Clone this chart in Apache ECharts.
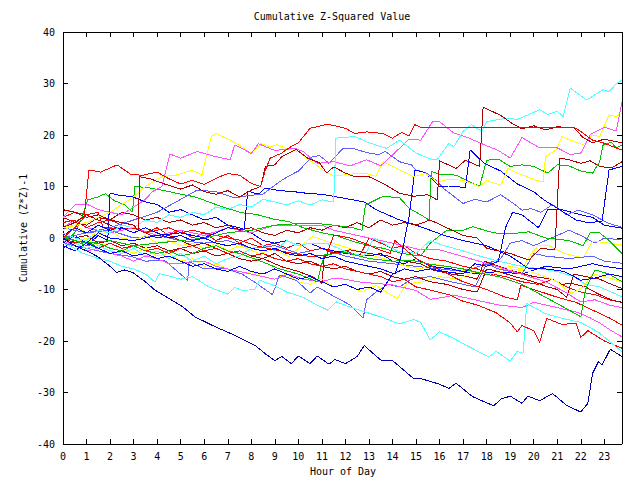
<!DOCTYPE html>
<html><head><meta charset="utf-8">
<script src="https://cdn.jsdelivr.net/npm/echarts@6/dist/echarts.min.js"></script>
<style>html,body{margin:0;padding:0;background:#fff}#c{width:640px;height:480px}#c svg path{shape-rendering:crispEdges}</style>
</head><body><div id="c"></div>
<script>
const hourTicks = [0,1,2,3,4,5,6,7,8,9,10,11,12,13,14,15,16,17,18,19,20,21,22,23];
const yTicks = [-40,-30,-20,-10,0,10,20,30,40];

const navy = [[0,0],[0.5,-1.5],[1,-2.5],[1.47,-3.6],[2,-5.5],[2.27,-6.7],[2.6,-6.2],[2.97,-6.7],[3.5,-8.5],[3.9,-10.1],[4.6,-12],[5.1,-13.4],[5.6,-15.3],[6.45,-17.2],[7.3,-18.9],[8.2,-21],[8.6,-22.5],[9.0,-23.8],[9.3,-23],[9.7,-24.4],[10.0,-22.9],[10.5,-24.4],[10.8,-22.9],[11.3,-24.5],[11.55,-23.6],[12.0,-24.4],[12.5,-23],[12.8,-20.9],[13.5,-23.7],[14.0,-23.8],[14.9,-27.3],[15.2,-27.3],[16.0,-28.4],[16.4,-29.2],[16.7,-28.2],[17.4,-30.8],[18.3,-32.6],[18.6,-31.3],[19.0,-30.7],[19.5,-32.1],[19.75,-30.7],[20.25,-31.6],[20.8,-30.2],[21.4,-32.5],[22.0,-33.8],[22.3,-32.1],[22.5,-26.3],[22.75,-24],[22.9,-24.7],[23.25,-21.6],[23.75,-23]];
const cyanTop = [[0,1],[0.5,0],[1,-0.5],[1.5,1.5],[2,1],[2.5,2.5],[3,2],[3.5,3.5],[4,3],[4.5,4.5],[5,4],[5.5,5],[6,4.5],[6.5,6],[7,5.5],[7.5,6.5],[8,6],[8.5,7.5],[9,7],[9.5,6.4],[10,7.2],[10.5,6.4],[11,7.4],[11.5,7],[11.6,19.4],[12.4,19.7],[13,18.5],[13.75,17.4],[14.3,19],[15,16.5],[15.7,15.2],[15.9,15.2],[16.4,18.4],[16.6,17.7],[17,20.7],[17.35,22],[17.8,20.7],[18,22.6],[18.9,23.3],[19.3,23],[19.8,24],[20.25,24.9],[20.6,24],[21,24.6],[21.25,23.6],[21.55,29.1],[22.25,26.8],[22.95,28.8],[23.2,28.4],[23.5,29.9],[23.75,30.7]];
const cyanLow = [[0,-1],[0.5,-2],[0.8,-2.9],[1.5,-4],[2,-4.5],[2.5,-5.5],[3,-6],[3.5,-7],[3.9,-8.5],[4.1,-6.9],[4.6,-7.5],[5,-8],[5.5,-7.5],[6.2,-9.5],[7,-10.9],[7.3,-9.6],[7.6,-10.2],[8.15,-10],[8.35,-8.2],[9,-9.3],[9.5,-10.5],[10.2,-11.5],[10.7,-12.8],[11.25,-14],[11.6,-12.4],[12.2,-13.4],[13,-14.6],[13.6,-15.5],[14.3,-16.7],[14.9,-15.8],[15.2,-16.4],[15.6,-19.8],[16,-18.2],[16.6,-19.5],[17.2,-21],[18.1,-23.1],[18.4,-22],[19,-23.9],[19.3,-22],[19.55,-22.4],[19.7,-12.7],[20.5,-14.7],[21.3,-15.7],[22,-16.4],[22.75,-18.3],[23.2,-20],[23.75,-22.1]];
const cyanMid = [[0,0],[0.5,-1],[1,-2],[1.5,-1.5],[2,-2.5],[2.5,-3],[3,-2],[3.5,-3.5],[4,-2.5],[4.5,-4],[5,-3],[5.5,-4.5],[6,-3.5],[6.5,-5],[7,-4],[7.5,-3.5],[8,-2],[8.5,-1.5],[9,-2.5],[9.5,-0.5],[10,-1.5],[10.5,-1],[11.2,-1],[11.7,-2],[12.2,-3],[12.8,-3.5],[13.2,0],[13.6,-1],[14.2,-2.5],[15,-3],[15.6,-0.5],[16.2,-1.5],[17,-2.5],[17.7,-3.5],[18.5,-4.5],[19.5,-5.5],[20.3,-6],[21,-6.5],[21.7,-7.5],[22.2,-9],[22.8,-9.5],[23.3,-10.5],[23.75,-11.4]];
const redTop = [[0,0],[0.5,2],[0.9,4],[1.1,13.2],[1.6,12.8],[2.3,14.2],[2.9,12.3],[3.4,12.2],[4,12.8],[4.5,11.5],[5,10.5],[5.5,11.2],[6,10.4],[6.6,11.8],[7.0,12.5],[7.5,12.2],[8.0,10.6],[8.4,10],[8.6,13.2],[8.8,15.5],[9.3,16.5],[9.6,17.5],[10.0,18.5],[10.5,21.3],[11.25,22.1],[12.0,21.3],[12.4,20.3],[12.9,20.6],[13.6,20.3],[14.0,19.4],[14.4,20.5],[14.7,19.8],[14.95,22],[15.2,21.5],[21.7,21.5],[21.9,21],[22.5,19],[23.0,18.4],[23.5,17.5],[23.75,17.1]];
const darkRedTop = [[0,5.5],[0.5,5],[1,4],[1.5,4.5],[2,3.5],[2.5,3],[3,2.5],[3.2,1.5],[3.25,11.9],[3.7,11.5],[4.3,10.5],[5,9.5],[5.5,10.3],[6,9],[6.5,8.5],[7,9.2],[7.5,8],[8,9.3],[8.4,10],[8.6,13.9],[9,14.2],[9.3,15.8],[9.9,17.2],[10.4,15.5],[10.9,14.6],[11.2,12.6],[11.5,13.8],[12,12.6],[12.4,11.9],[13,11.9],[13.6,10.6],[14.3,8.7],[14.9,8.1],[15.5,8.4],[15.9,7.4],[16,15],[16.7,13.5],[17.1,15.1],[17.7,13.9],[17.85,25.4],[18.6,23.8],[19.1,22.2],[19.5,21.2],[20,21.8],[20.5,21],[21,21.6],[21.7,21.4],[22.1,19.5],[22.5,18.5],[23,19.2],[23.4,18.8],[23.75,18.5]];
const magentaTop = [[0,4],[0.5,6.4],[1,6.6],[1.5,5.5],[2,5],[2.5,4.5],[3,6],[3.5,7.5],[3.8,9],[4.2,10],[4.55,16.3],[5,15.5],[5.7,16.8],[6.4,15.9],[7.1,15.2],[7.3,18.1],[8,16.4],[8.3,18.3],[9,17],[9.85,17.4],[10.2,16.8],[10.8,14.5],[11.5,14.8],[12.2,14],[12.9,15.2],[13.5,14],[14.2,17],[14.7,19.2],[15.2,19],[15.7,22.6],[16,22.6],[16.6,20.4],[17.2,19.5],[17.9,18.1],[18.5,17],[19,15.5],[19.5,19.5],[20.25,17.5],[21,17.5],[21.55,16.2],[22,16.5],[22.4,20.1],[23,21.5],[23.5,20.8],[23.75,26.3]];
const yellowTop = [[0,2],[0.5,2.5],[1,3],[1.5,4],[2,5],[2.5,6.5],[3,8],[3.5,10],[4.2,11.9],[4.8,12.2],[5.5,13.2],[5.9,12.2],[6.1,16],[6.3,19.7],[6.5,20.3],[7.1,19],[7.5,18],[8.0,16.4],[8.4,18.3],[8.8,17.7],[9.1,18.1],[9.6,17.2],[10,16.8],[10.5,15],[11.05,13.2],[11.5,12],[12.2,12.4],[12.8,12.6],[13.3,12],[13.6,14.8],[14.2,13.5],[14.9,11.9],[15.4,12.5],[15.9,10.9],[16.4,11.4],[17,11.2],[17.7,10],[18.0,11.2],[18.6,10.2],[18.9,13.5],[19.3,12.6],[20.1,11.2],[20.4,10.9],[20.5,15.8],[20.95,17.1],[21.2,19.7],[21.55,19],[22.1,18.1],[22.5,20],[22.8,19.7],[23.2,23.9],[23.5,23.6],[23.75,24.3]];
const slateTop = [[0,0],[1,1],[2,2],[3,3.5],[4,5],[5,7.5],[5.7,9.3],[6.5,9],[7.3,7.8],[8,8.3],[8.5,8.5],[9.1,10.6],[9.5,11.8],[10,13],[10.6,15.8],[10.9,16],[11.3,14.5],[11.9,17.4],[12.3,17.4],[12.9,16.6],[13.4,16.2],[13.7,16.8],[14.3,14.8],[14.8,14.2],[15,13.2],[15.45,12.6],[15.9,11],[16.2,9.5],[17,6.7],[17.5,7.5],[18.0,7],[18.6,8.4],[19.2,6.5],[19.5,5.4],[19.9,5.7],[20.3,5],[20.8,6.5],[21.4,4.5],[21.9,5.4],[22.5,4.5],[23.2,2.8],[23.75,2.1]];
const blueJump = [[0,0.5],[0.5,2],[1,1],[1.5,2.5],[2,1.5],[2.5,2],[3,1],[3.5,2],[4,1],[4.5,0],[5,0.5],[5.5,-0.5],[6,0],[6.5,-1],[7,-1.5],[7.5,-1],[8,-2],[8.5,-2.5],[9,-2],[9.5,-3],[10,-3.5],[10.5,-3],[11,-4],[11.5,-3.5],[12,-4.5],[12.5,-5],[13,-5.5],[13.5,-6],[14.1,-7],[14.4,-3],[14.7,4.1],[14.95,13.2],[15.3,12.8],[15.6,11.8],[16,10],[16.4,10.1],[17.1,9.8],[17.3,17.1],[17.9,14.5],[18.6,13],[19.3,10.5],[20,9],[20.4,7.5],[21.1,5.5],[21.8,3.5],[22.3,3],[22.9,3.2],[23.2,13.2],[23.5,13.6],[23.75,13.9]];
const greenTop = [[0,0],[1,-1],[2,-0.5],[3,-1.5],[4,-1],[5,-0.5],[6,0],[7,1],[8,1.5],[9,2.5],[10,2.8],[10.6,2.9],[11.5,2.5],[12.3,2],[12.7,1.5],[12.85,6.4],[13.6,8.1],[14.3,7.8],[14.7,5.8],[15.2,4.5],[15.55,3.5],[15.65,12.9],[16,12.4],[16.7,12.2],[17,11.5],[17.7,10],[18.0,15.1],[18.5,15.3],[19,13.9],[19.5,14.2],[20,13.9],[20.6,12.6],[21,14.2],[21.5,14],[22,13],[22.5,12.6],[22.8,14.8],[22.95,18.1],[23.3,18.6],[23.5,17.5],[23.75,18]];
const greenEarly = [[0,-1],[0.5,1],[0.8,4],[1.05,7.4],[1.5,8],[1.8,8.6],[2.2,7.2],[2.6,6.5],[2.95,5],[3.05,10],[3.6,9.8],[4.4,9.1],[5,8.5],[5.6,8],[6.2,7],[6.8,6],[7.6,4.9],[8.2,4.6],[9,3.6],[9.6,3.2],[10.2,2],[11,1],[11.6,0.5],[12.2,-0.5],[13,-1.5],[13.6,-2],[14.4,-3],[15.2,-3.5],[15.6,-1],[16.3,1.5],[17,1.5],[17.4,2.2],[18.3,1],[19,0.8],[19.8,1.2],[20.5,0],[21.5,-0.5],[22.1,-1.5],[22.4,1],[22.8,1],[23.2,-0.5],[23.75,-3]];
const greenLow = [[0,0.5],[0.5,-0.5],[1,-1.5],[1.5,-1],[2,-2],[2.5,-2.5],[3,-1.5],[3.5,-2.5],[4,-3],[4.5,-2.5],[5,-3.5],[5.5,-3],[6,-2],[6.5,-1.5],[7,-2.5],[7.5,-3],[8.4,-4.5],[9.2,-6],[10,-7],[10.8,-8.5],[11.1,-3.3],[12,-2.8],[13,-4],[14,-4.5],[14.8,-4.3],[15.6,-5.1],[16.3,-5.5],[17,-6],[17.7,-6.8],[18.5,-7.5],[19.5,-9],[20.5,-11.5],[21.5,-14],[22,-15.3],[22.2,-10],[22.6,-6.2],[23.2,-7],[23.75,-8.5]];
const redMid = [[0,3],[0.5,3.5],[1,2],[1.5,3],[2,3.5],[2.5,2.5],[3,2],[3.5,1],[4,1.5],[4.5,2],[5,1],[5.5,1.5],[6,1],[6.5,0.5],[7,0],[7.5,-0.4],[8.2,-1.5],[9,-2.3],[9.8,-3],[10.5,-3.6],[11.2,-3.3],[11.5,0.6],[12.2,0],[12.8,-1],[13.5,-2.4],[13.9,-3],[14.1,-0.5],[15,-4],[16,-6.2],[17,-8.5],[18,-10],[18.8,-11.5],[19.3,-12],[19.45,-9.2],[20,-10],[21,-11.5],[21.8,-12.5],[22.5,-14],[23.2,-15.5],[23.75,-16.9]];
const redLow = [[0,0],[0.5,-1],[1,-0.5],[1.5,-2],[2,-1],[2.5,-2],[3,-1.5],[3.5,-2.5],[4,-2],[4.5,-3],[5,-2],[5.5,-1.5],[6,-2.5],[6.5,-2],[7,-3],[7.5,-2.5],[8,-3.5],[8.5,-3],[9,-4],[9.5,-4.5],[10,-4],[10.5,-5],[11,-5.5],[11.5,-5],[12,-6],[12.5,-6.5],[13,-7],[13.5,-7.5],[14,-8.5],[14.5,-8],[15,-9.5],[15.6,-10.1],[16.4,-11],[17,-12.3],[17.6,-13],[18.4,-14.5],[19,-16.5],[19.3,-18.2],[19.5,-17],[20,-18],[20.25,-20.3],[20.55,-15.6],[21.2,-16.8],[21.8,-16.5],[22,-19.3],[22.3,-18],[23,-20],[23.75,-21.4]];
const redEarly = [[0,4],[0.5,5],[1,4.5],[1.5,5],[1.7,2],[2.5,1.8],[3.2,1.9],[3.5,1],[4,2],[4.5,0.5],[5,1.5],[5.5,0],[6,1],[6.5,-0.5],[7,0.5],[7.5,-1],[8,0],[8.5,-1.5],[9,-1],[9.5,-2],[10,-1],[10.5,-2.5],[11,-2],[11.5,-3],[12,-2.5],[12.6,-3.5],[13,0],[13.5,-1],[14,-2],[14.5,-1.5],[15,-3],[15.6,-4],[16.3,-4.5],[17,-5.5],[17.6,-6],[18.2,-7],[18.8,-7.5],[19.5,-8.5],[20.2,-9],[20.8,-8],[21.4,-9.5],[22,-10.5],[22.6,-11],[23.2,-12],[23.75,-12.5]];
const magentaMid = [[0,2],[0.5,3.5],[1,2],[2,1],[3,2],[4,0.5],[5,1.5],[6,0.5],[7,2],[8,1],[9,2.5],[10.35,2.5],[11,2.5],[11.5,1.5],[12.5,0.5],[13.5,-0.5],[14.5,-1.5],[15.2,-2.3],[16,-2.3],[17,-3.6],[18.5,-5.6],[19.8,-7.5],[20.5,-8.5],[21.3,-10.4],[22,-12.4],[22.6,-12],[23.2,-13],[23.75,-13.5]];
const magentaLow = [[0,-0.5],[0.5,-1.5],[1,-2.5],[1.5,-2],[2,-3],[2.5,-3.5],[3,-4.5],[3.5,-3.5],[4,-4],[4.5,-5],[5,-5],[5.5,-4.5],[6,-4.5],[6.5,-5.5],[7,-6],[7.5,-6.5],[8,-7],[8.5,-7.5],[9,-8],[9.6,-7],[10.2,-8],[11,-8.5],[11.5,-7.8],[12,-8],[12.5,-8.5],[13,-8.7],[14,-9.1],[15,-10.2],[15.6,-11.9],[16.2,-11.5],[16.6,-11.1],[17.5,-12],[18.5,-13],[19.5,-13.5],[20,-12.5],[20.5,-13],[21,-13.5],[21.9,-14.5],[22.4,-15.5],[22.8,-16.5],[23.3,-18],[23.75,-19.2]];
const blueMid = [[0,-1],[0.5,0.5],[1,-1],[1.5,1],[2,0],[3,-0.5],[4,0.5],[5,1],[6,0],[7,2],[7.7,1.6],[7.85,9.1],[8.3,8.5],[8.6,9.7],[9.2,9.2],[9.8,9],[10.5,8.6],[11,8.5],[11.6,8],[12.2,7.5],[12.8,7],[13.3,5.5],[13.8,4.5],[14.3,3.5],[15,2.5],[15.6,1.5],[16.2,0.5],[17,-0.5],[18,-1.5],[19,-3.5],[19.8,-6],[20.5,-6],[21.3,-6.5],[22,-8.2],[22.6,-7.8],[23.2,-7],[23.75,-7.5]];
const blueLate = [[0,-1.5],[0.5,-2.5],[1,-1],[1.5,-2],[2,-3],[2.5,-2.5],[3,-3.5],[3.5,-3],[4,-4],[4.5,-3.5],[5,-4.5],[5.5,-5.5],[6,-5],[6.5,-6],[7,-6.5],[7.5,-5.5],[8,-6.5],[8.5,-7],[9,-6],[9.5,-7],[10,-8],[10.5,-7.5],[11,-8.5],[11.5,-9.5],[12,-9],[12.5,-10],[13,-9.5],[13.5,-10.5],[14,-7],[14.5,-6],[15,-6.5],[15.6,-6],[16.2,-6.5],[17,-7],[17.5,-5],[18,-5.5],[18.5,-4.5],[18.8,2],[19.1,5],[19.5,4.5],[20.2,2],[20.6,5.5],[21.2,5.5],[22,4.5],[22.5,4],[23,2.5],[23.75,1.9]];
const blueEarly = [[0,-2],[0.5,-0.5],[1,-1.5],[1.5,0.5],[1.9,-0.5],[2.0,8.7],[2.5,8.2],[2.9,8.1],[3.5,7],[4,6.5],[4.5,5],[5,5.5],[5.5,4.5],[6,3.5],[6.5,4],[7,2.5],[7.5,2],[8,1],[8.5,-0.5],[9,-1],[9.5,-0.5],[10,-1.5],[10.5,-1],[11,-2],[12,-3],[13,-3.5],[13.5,-3],[14,-4.5],[14.5,-5],[15,-4],[15.6,-5.5],[16.5,-6],[17.5,-7],[18.5,-6.5],[19.5,-7],[20.5,-5.5],[21.5,-6],[22.5,-5],[23,-5.5],[23.75,-6]];
const darkRedLate = [[0,2],[0.5,3],[1,2.5],[1.5,4],[2,3.5],[2.5,5],[3,4.5],[3.5,3.5],[4,4],[4.5,3],[5,3.5],[5.5,2.5],[6,3],[6.5,2],[7,2.5],[7.5,1.5],[8,2],[8.5,1],[9,0.5],[9.5,1.5],[10,1],[10.5,2],[11,1.5],[11.5,2.5],[12,2],[12.5,3],[13,2],[13.5,3.5],[14,2.5],[14.5,3],[15,2.5],[15.6,3.5],[16.3,2],[17,0.5],[17.6,0],[18,-2],[18.5,-2.5],[19,-3],[19.8,-4.3],[20.3,-2],[20.9,-2.3],[21.1,15.5],[21.5,15.2],[22,14.5],[22.4,15],[22.8,13.9],[23.3,13.6],[23.75,14.8]];
const darkRedLow = [[0,4],[0.5,3],[1,4.5],[1.5,3.5],[2,2.5],[2.5,1.5],[3,2],[3.5,1],[4,0],[4.5,0.5],[5,-0.5],[5.5,-1.5],[6,-1],[6.5,-2],[7,-3],[7.5,-2.5],[8,-3.5],[8.5,-4],[9,-3],[9.5,-4.5],[10,-5],[10.5,-4.5],[11,-5.5],[11.5,-6],[12,-5.5],[12.5,-6.5],[13,-7],[13.5,-6.5],[14,-7.5],[14.5,-8],[15,-7.5],[15.6,-8.5],[16.3,-9],[17,-10],[17.6,-10.5],[18,-6],[18.5,-6.5],[19.2,-7.5],[20,-8.5],[20.6,-9.5],[21,-10],[21.4,-11.5],[21.7,-7],[22.2,-7.5],[22.8,-8],[23.3,-9],[23.75,-9.8]];
const darkRedMid = [[0,1],[0.5,0],[1,0.5],[1.5,-1],[2,-0.5],[2.5,-1.5],[3,-1],[3.5,-2],[4,-1.5],[4.5,-2.5],[5,-2],[5.5,-3],[6,-2.5],[6.5,-3.5],[7,-3],[7.5,-4],[8,-4.5],[8.5,-4],[9.3,-5.6],[10,-6.5],[10.6,-7.5],[11,-8.8],[11.1,-3.6],[11.5,-2.8],[12.2,-2.3],[13,-3],[13.8,-3.5],[14.5,-4.5],[15.2,-5],[15.7,-6.2],[16.5,-7],[17.2,-7.5],[17.6,-8],[17.9,-4.5],[18.5,-5.5],[19.2,-6.5],[20,-7.5],[20.8,-8],[21.2,-9],[21.6,-8.8],[22.2,-9.5],[22.8,-11],[23.3,-12],[23.75,-12.5]];
const yellowMid = [[0,1.5],[0.5,2.5],[1,1],[1.5,0.5],[2,1.5],[2.5,0],[3,-0.5],[3.5,0.5],[4,-1],[4.5,-0.5],[5,-1.5],[5.5,-1],[6,-2],[6.5,-1],[7,-2.5],[7.5,-1.5],[8.35,-3],[9,-2.2],[9.6,-3.6],[10,-2],[10.6,0.3],[11.1,-0.5],[11.8,-1.5],[12.5,-2.5],[13.2,-3.5],[14,-4.5],[14.6,-5.5],[15.2,-6],[15.8,-5],[16.5,-6],[17.2,-6.5],[18,-7],[18.5,-6],[19,-5.5],[19.5,-6],[19.9,-3],[20.2,-1.5],[20.6,-1.4],[21.3,-3],[22.1,-3.9],[22.5,-0.6],[23.2,-1],[23.75,-1.4]];
const yellowLow = [[0,0],[0.5,-1],[1,0],[1.5,-1.5],[2,-1],[2.5,-2],[3,-3],[3.5,-2],[4,-3.5],[4.5,-3],[5,-4.5],[5.5,-4],[6,-5.5],[6.5,-5],[7,-6],[7.5,-7],[8,-6.5],[8.5,-7.5],[9,-8],[9.5,-7],[10,-8.5],[10.5,-9],[11,-8],[11.5,-9.5],[12,-9],[12.7,-10.4],[13.3,-9.2],[14.2,-11.8],[14.6,-8.9],[15.3,-8.5],[16,-7.5],[16.8,-8],[17.5,-6.5],[18.3,-7],[19,-6],[19.8,-6.5],[20.5,-7.5],[21,-8.5],[21.6,-10.8],[22.1,-9.5],[22.5,-6.9],[23,-7.5],[23.75,-8.5]];
const slateLow = [[0,-1],[1,-2],[2,-3],[2.9,-3.6],[3.5,-4.5],[4.3,-4.3],[5.3,-8.2],[5.35,-4.6],[6,-6],[7,-6],[7.6,-7],[8.15,-8.6],[8.9,-11],[9.2,-7.2],[9.9,-8.2],[10.5,-10.7],[10.8,-9.5],[11.5,-11.3],[12.2,-13],[12.75,-15.6],[12.9,-12],[13.3,-10.5],[13.8,-9],[14.3,-9.5],[14.8,-8],[15.6,-7.5],[16.5,-8.5],[17.5,-9.5],[18,-5],[18.5,-6],[19.5,-7],[20,-3],[20.5,-3.5],[21.5,-4],[22.5,-3.5],[23,-4.5],[23.75,-4.9]];
const slateMid = [[0,2],[1,1],[2,1.5],[3,0],[4,0.5],[5,-0.5],[6,-1],[7,-0.5],[8,-2],[9,-1.5],[10,-3],[11,-2],[12,-3.5],[13,-4.5],[14,-5],[15,-5.5],[16,-6],[17,-6.5],[18,-5],[18.6,-4],[19,-1],[19.5,-0.5],[20,-1.5],[21,0.5],[21.5,1.5],[22,0.5],[22.6,-1],[23,0],[23.75,-0.4]];

const RED='#ff0000', GREEN='#00c000', BLUE='#0000ff', MAG='#ff50ff', CYAN='#50ffff', YEL='#ffff00', DRED='#b00000', NAVY='#0000b0', SLATE='#6060ff';

const lineList = [
  [slateMid,SLATE],[yellowMid,YEL],[greenEarly,GREEN],[redEarly,RED],[darkRedMid,DRED],
  [blueEarly,BLUE],[yellowLow,YEL],[darkRedLow,DRED],[slateLow,SLATE],[magentaMid,MAG],
  [magentaLow,MAG],[cyanMid,CYAN],[redMid,RED],[redLow,RED],[greenLow,GREEN],
  [blueMid,BLUE],[blueLate,BLUE],[darkRedLate,DRED],[slateTop,SLATE],[greenTop,GREEN],
  [blueJump,BLUE],[yellowTop,YEL],[magentaTop,MAG],[cyanLow,CYAN],[cyanTop,CYAN],
  [darkRedTop,DRED],[redTop,RED],[navy,NAVY]
];

const FONT = 'DejaVu Sans Mono';
const chart = echarts.init(document.getElementById('c'), null, {renderer:'svg'});
const axisCommon = {
  axisLine:{show:true,onZero:false,lineStyle:{color:'#000',width:1}},
  axisTick:{show:true,inside:true,length:5,lineStyle:{color:'#000',width:1}},
  splitLine:{show:false}
};
chart.setOption({
  animation:false,
  backgroundColor:'#fff',
  graphic:[
    {type:'text',x:332,y:16,style:{text:'Cumulative Z-Squared Value',font:'10px "DejaVu Sans Mono"',fill:'#000',textAlign:'center',textVerticalAlign:'middle'}},
    {type:'text',x:343,y:471,style:{text:'Hour of Day',font:'10px "DejaVu Sans Mono"',fill:'#000',textAlign:'center',textVerticalAlign:'middle'}},
    {type:'text',x:23,y:228,rotation:Math.PI/2,style:{text:'Cumulative (Z*Z)-1',font:'10px "DejaVu Sans Mono"',fill:'#000',textAlign:'center',textVerticalAlign:'middle'}}
  ],
  grid:{left:63,right:18,top:32,bottom:36,containLabel:false},
  xAxis:[
    Object.assign({type:'value',position:'bottom',min:0,max:23.75,interval:1,
      axisLabel:{show:true,color:'#000',fontFamily:FONT,fontSize:10,margin:7,showMaxLabel:false,
        formatter:v=>hourTicks.includes(v)?String(v):''}},axisCommon),
    Object.assign({type:'value',position:'top',min:0,max:23.75,interval:1,axisLabel:{show:false}},axisCommon)
  ],
  yAxis:[
    Object.assign({type:'value',position:'left',min:-40,max:40,interval:10,
      axisLabel:{show:true,color:'#000',fontFamily:FONT,fontSize:10,margin:8,
        formatter:v=>yTicks.includes(v)?String(v):''}},axisCommon),
    Object.assign({type:'value',position:'right',min:-40,max:40,interval:10,axisLabel:{show:false}},axisCommon)
  ],
  series: lineList.map(([d,c])=>({type:'line',data:d,xAxisIndex:0,yAxisIndex:0,showSymbol:false,symbol:'none',
    lineStyle:{color:c,width:1},itemStyle:{color:c},silent:true}))
});
</script></body></html>
